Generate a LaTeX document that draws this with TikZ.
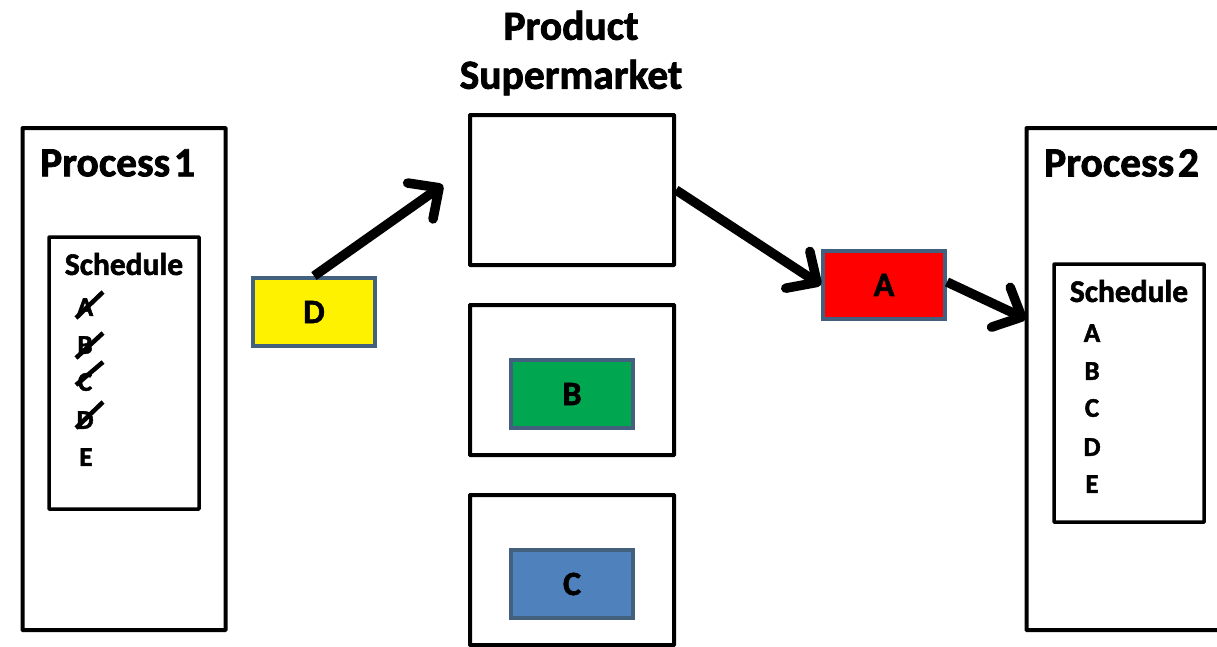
\documentclass[tikz,border=0pt]{standalone}
\usepackage{fontspec}
\setmainfont{Carlito}[BoldFeatures={FakeBold=1.8,WordSpace=0.4}]
\usetikzlibrary{arrows.meta}
\definecolor{edgeblue}{HTML}{44607F}
\definecolor{cfill}{HTML}{4F81BD}
\definecolor{bfill}{HTML}{00A650}
\tikzset{
  x=1pt,y=-1pt,
  blackbox/.style={draw=black,line width=4pt,fill=white,inner sep=0pt,rounded corners=0.5pt},
  part/.style={draw=edgeblue,line width=4pt,inner sep=0pt,minimum width=122pt,minimum height=68pt,font=\fontsize{34}{34}\selectfont\bfseries,text=black},
  title/.style={font=\fontsize{41.5}{49}\selectfont\bfseries,align=center,inner sep=0pt},
  sched/.style={font=\fontsize{31.5}{30}\selectfont\bfseries,inner sep=0pt},
  item/.style={font=\fontsize{27}{27}\selectfont\bfseries,inner sep=0pt},
  flow/.style={draw=black,line width=9.5pt,-{Straight Barb[length=23pt,width=44pt,line width=9.5pt,round]}},
  strike/.style={draw=black,line width=4.5pt}
}
\begin{document}
\begin{tikzpicture}
\useasboundingbox (0,0) rectangle (1217,646);
\fill[white] (0,0) rectangle (1217,646);
% process boxes
\node[blackbox,minimum width=203pt,minimum height=502pt] (p1) at (124,379) {};
\node[blackbox,minimum width=203pt,minimum height=502pt] (p2) at (1128,379) {};
\node[title,anchor=west] (p1t) at (40,163) {Process 1};
\node[title,anchor=west] (p2t) at (1044,163) {Process 2};
% schedules
\node[blackbox,line width=3.5pt,minimum width=150pt,minimum height=272pt] (s1) at (124,373) {};
\node[blackbox,line width=3.5pt,minimum width=150pt,minimum height=258pt] (s2) at (1129,393) {};
\node[sched] (s1t) at (124,264) {Schedule};
\node[sched] (s2t) at (1129,291) {Schedule};
\node[item] (a1) at (85,307) {A};
\node[item] (b1) at (85,345) {B};
\node[item] (c1) at (85,382) {C};
\node[item] (d1) at (85,420) {D};
\node[item] (e1) at (86,457) {E};
\node[item] (a2) at (1092,333) {A};
\node[item] (b2) at (1092,371) {B};
\node[item] (c2) at (1092,408) {C};
\node[item] (d2) at (1092,447) {D};
\node[item] (e2) at (1092,484) {E};
\draw[strike] (a1.center) ++(-9,11) -- ++(27,-26);
\draw[strike] (b1.center) ++(-9,13) -- ++(27,-25);
\draw[strike] (c1.center) ++(-9,3) -- ++(27,-23);
\draw[strike] (d1.center) ++(-9,8) -- ++(27,-26);
% supermarket
\node[title] (sm) at (571,53) {Product\\Supermarket};
\node[blackbox,minimum width=204pt,minimum height=150pt] (m1) at (572,190) {};
\node[blackbox,minimum width=204pt,minimum height=150pt] (m2) at (572,380) {};
\node[blackbox,minimum width=204pt,minimum height=150pt] (m3) at (572,570) {};
% parts
\node[part,fill=bfill] (B) at (572,394) {B};
\node[part,fill=cfill] (C) at (572,584) {C};
\node[part,fill=red] (A) at (884,285) {A};
\node[part,fill=yellow] (D) at (314,312) {D};
% connectors
\coordinate (dend) at (443,185);
\coordinate (m1e) at (676,190);
\coordinate (p2w) at (1026,319);
\draw[flow] (D.north) -- (dend);
\draw[flow] (m1e) -- (A.west);
\draw[flow] (A.east) ++(0,-3) coordinate (aout) (aout) -- (p2w);
\end{tikzpicture}
\end{document}
